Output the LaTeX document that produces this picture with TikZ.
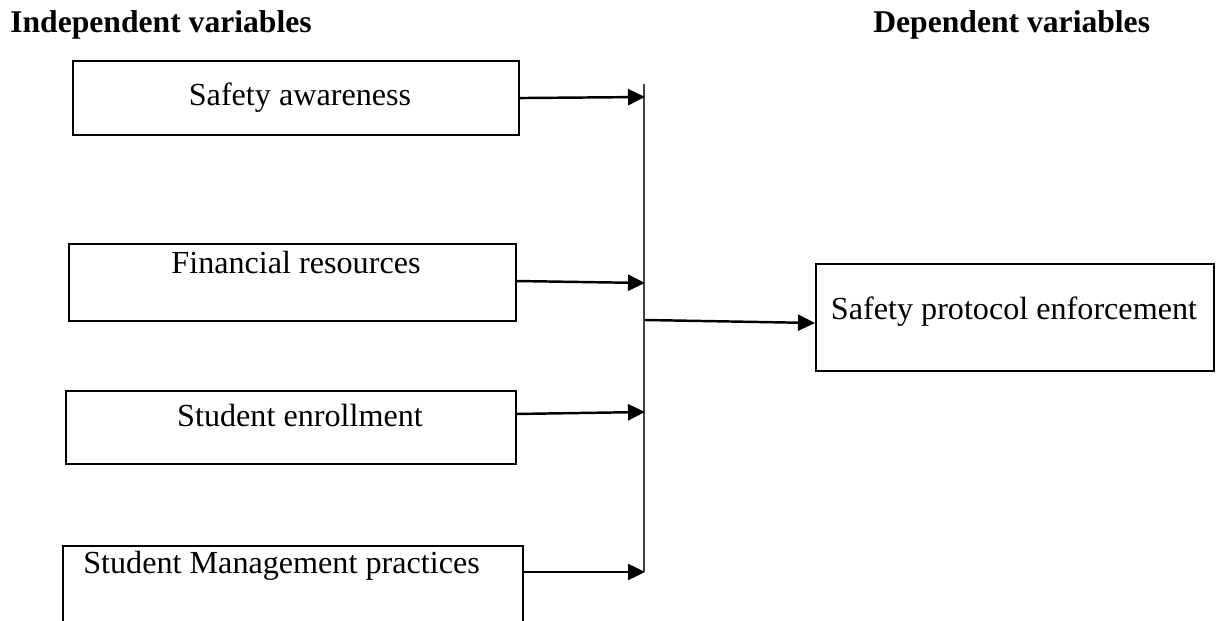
\documentclass[tikz,border=0pt]{standalone}
\usepackage{fontspec}
\setmainfont{Liberation Serif}
\usetikzlibrary{arrows.meta}
\begin{document}
\begin{tikzpicture}[x=0.02cm,y=-0.02cm,
  box/.style={draw,line width=1.2pt,inner sep=0pt,anchor=north west},
  lbl/.style={inner sep=0pt,font=\fontsize{18.3}{21}\selectfont},
  head/.style={inner sep=0pt,anchor=base west,font=\fontsize{18}{21}\selectfont\bfseries},
  conn/.style={line width=1.4pt,-{Triangle[length=0.34cm,width=0.32cm]}},
  bus/.style={line width=0.7pt,draw=black!75}]
\useasboundingbox (0,0) rectangle (1225,621);
\clip (0,0) rectangle (1225,621);
\node[head] (hi) at (10,33) {Independent variables};
\node[head] (hd) at (873,33) {Dependent variables};
% boxes
\node[box,minimum width=446*0.02cm,minimum height=74*0.02cm] (b1) at (72,60) {};
\node[box,minimum width=447*0.02cm,minimum height=77*0.02cm] (b2) at (68,243) {};
\node[box,minimum width=450*0.02cm,minimum height=73*0.02cm] (b3) at (65,390) {};
\node[box,minimum width=460*0.02cm,minimum height=90*0.02cm] (b4) at (62,545) {};
\node[box,minimum width=398*0.02cm,minimum height=107*0.02cm] (bd) at (815,263) {};
% labels
\node[lbl] (t1) at (300,98) {Safety awareness};
\node[lbl] (t2) at (296,263) {Financial resources};
\node[lbl] (t3) at (300,416) {Student enrollment};
\node[lbl,anchor=west] (t4) at (83,566) {Student Management practices};
\node[lbl] (td) at (1014,312) {Safety protocol enforcement};
% bus
\coordinate (btop) at (644,84);
\coordinate (bbot) at (644,572);
\coordinate (p1) at (645,97);
\coordinate (p2) at (645,283);
\coordinate (p3) at (645,412);
\coordinate (p4) at (645,572);
\coordinate (pm) at (645,320);
\coordinate (s2) at (515,281);
\coordinate (s3) at (515,414);
\coordinate (s4) at (522,572);
\coordinate (e5) at (815,323);
\draw[bus] (btop) -- (bbot);
\draw[conn] (b1.east) -- (p1);
\draw[conn] (s2) -- (p2);
\draw[conn] (s3) -- (p3);
\draw[conn] (s4) -- (p4);
\draw[conn] (pm) -- (e5);
\end{tikzpicture}
\end{document}
